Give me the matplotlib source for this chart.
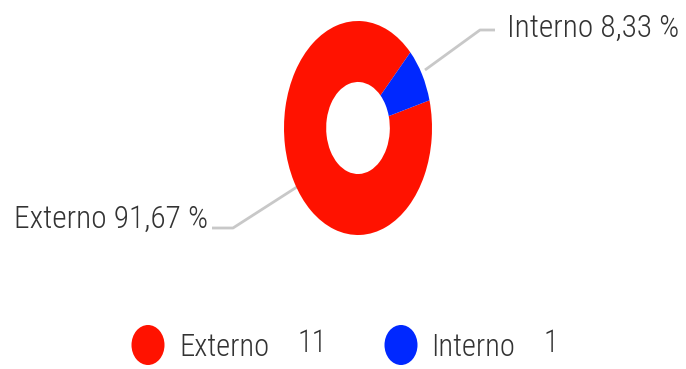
import matplotlib
matplotlib.use("Agg")
import matplotlib.pyplot as plt
from matplotlib import font_manager
from matplotlib.patches import Ellipse

categories = ["Externo", "Interno"]
counts = [11, 1]
pct_labels = ["91,67 %", "8,33 %"]
colors = ["#FF1200", "#0028FF"]

names = sorted({f.name for f in font_manager.fontManager.ttflist})
font = "DejaVu Sans"
for cand in ["Roboto Condensed", "Liberation Sans Narrow", "Open Sans Condensed"]:
    if cand in names:
        font = cand
        break
plt.rcParams["font.family"] = [font, "DejaVu Sans"]
plt.rcParams["font.weight"] = "light"

W, H = 686, 369
fig = plt.figure(figsize=(W / 100, H / 100), dpi=100)

# overlay in pixel coords for leader lines / legend
bg = fig.add_axes([0, 0, 1, 1], zorder=0)
bg.set_xlim(0, W)
bg.set_ylim(H, 0)
bg.axis("off")

# donut, stretched vertically like the reference
cx, cy, rx, ry = 358, 128, 74, 107
ax = fig.add_axes([(cx - rx) / W, 1 - (cy + ry) / H, 2 * rx / W, 2 * ry / H], zorder=1)
ax.pie(counts, colors=colors, startangle=15, counterclock=False,
       radius=1, wedgeprops=dict(width=0.57, linewidth=0))
ax.set_aspect("auto")
ax.set_xlim(-1, 1)
ax.set_ylim(-1, 1)
ax.axis("off")

line_c = "#C8C8C8"
txt_c = "#333333"
fs = 22.6
# leader lines
bg.plot([212, 233, 300], [228, 228, 185], color=line_c, lw=2, solid_capstyle="butt")
bg.plot([495, 480, 425], [30, 30, 70], color=line_c, lw=2, solid_capstyle="butt")
bg.text(208, 219, f"{categories[0]} {pct_labels[0]}", ha="right", va="center",
        fontsize=fs, color=txt_c)
bg.text(507, 28, f"{categories[1]} {pct_labels[1]}", ha="left", va="center",
        fontsize=fs, color=txt_c)

# legend
leg_x = [148, 401]
name_x = [179, 431]
count_x = [297, 543]
for i, (name, n) in enumerate(zip(categories, counts)):
    bg.add_patch(Ellipse((leg_x[i], 345), 33, 40, color=colors[i], lw=0))
    bg.text(name_x[i], 347, name, ha="left", va="center", fontsize=22, color=txt_c)
    bg.text(count_x[i], 343, str(n), ha="left", va="center", fontsize=22, color=txt_c)

fig.savefig("out.png", dpi=100)
